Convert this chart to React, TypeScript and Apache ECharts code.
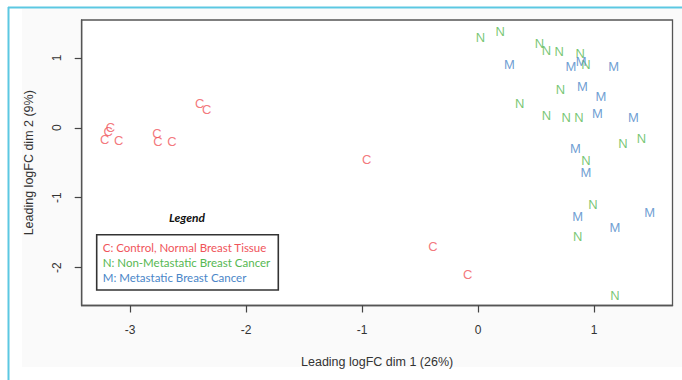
import React, { useEffect, useRef } from "react";
import * as echarts from "echarts";

const xTicks = [-3, -2, -1, 0, 1];
const yTicks = [-2, -1, 0, 1];

const cX = [-2.40, -2.34, -3.17, -3.19, -3.22, -3.10, -2.77, -2.76, -2.64, -0.96, -0.39, -0.09];
const cY = [0.34, 0.26, 0.01, -0.06, -0.17, -0.18, -0.08, -0.20, -0.20, -0.45, -1.70, -2.10];

const nX = [0.02, 0.19, 0.53, 0.59, 0.70, 0.88, 0.93, 0.71, 0.36, 0.59, 0.76, 0.87, 1.25, 1.41, 0.93, 0.99, 0.86, 1.18];
const nY = [1.29, 1.38, 1.20, 1.10, 1.09, 1.06, 0.90, 0.55, 0.35, 0.17, 0.14, 0.14, -0.22, -0.15, -0.47, -1.10, -1.55, -2.40];

const mX = [0.27, 0.80, 0.89, 1.17, 0.90, 1.06, 1.03, 1.34, 0.84, 0.93, 0.86, 1.18, 1.48];
const mY = [0.90, 0.87, 0.94, 0.87, 0.59, 0.44, 0.20, 0.14, -0.29, -0.64, -1.27, -1.42, -1.21];

const groups = [
  { letter: "C", label: "C: Control, Normal Breast Tissue", color: "#f0545a", xs: cX, ys: cY },
  { letter: "N", label: "N: Non-Metastatic Breast Cancer", color: "#56b852", xs: nX, ys: nY },
  { letter: "M", label: "M: Metastatic Breast Cancer", color: "#4a86c8", xs: mX, ys: mY },
];

export default function App() {
  const ref = useRef<HTMLDivElement>(null);
  useEffect(() => {
    if (!ref.current) return;
    const chart = echarts.init(ref.current, null, { renderer: "svg" });
    const axisFont = { fontFamily: "Liberation Sans, Arial, sans-serif", fontSize: 12, color: "#333" };
    const legendFont = "Lato, 'Open Sans', sans-serif";
    const lineStyle = { color: "#555", width: 1.3 };
    chart.setOption({
      animation: false,
      backgroundColor: "#ffffff",
      grid: {
        left: 81.7,
        top: 20,
        right: 9.5,
        bottom: 74.5,
        show: true,
        backgroundColor: "#ffffff",
        borderColor: "#555",
        borderWidth: 1.3,
      },
      xAxis: {
        type: "value",
        min: -3.418,
        max: 1.677,
        splitLine: { show: false },
        axisLine: { show: true, onZero: false, lineStyle },
        axisTick: { show: true, length: 7, inside: false, customValues: xTicks, lineStyle: { color: "#444", width: 1.2 } },
        axisLabel: { customValues: xTicks, margin: 18, ...axisFont },
        name: "Leading logFC dim 1 (26%)",
        nameLocation: "middle",
        nameGap: 50,
        nameTextStyle: { ...axisFont, fontSize: 12.5 },
      },
      yAxis: {
        type: "value",
        min: -2.54,
        max: 1.54,
        splitLine: { show: false },
        axisLine: { show: true, onZero: false, lineStyle },
        axisTick: { show: true, length: 7, inside: false, customValues: yTicks, lineStyle: { color: "#444", width: 1.2 } },
        axisLabel: { customValues: yTicks, margin: 19, rotate: 90, ...axisFont },
        name: "Leading logFC dim 2 (9%)",
        nameLocation: "middle",
        nameGap: 46,
        nameRotate: 90,
        nameTextStyle: { ...axisFont, fontSize: 12.5 },
      },
      series: groups.map((g) => ({
        type: "scatter",
        name: g.letter,
        data: g.xs.map((x, i) => [x, g.ys[i]]),
        symbol: "circle",
        symbolSize: 1,
        itemStyle: { color: "rgba(0,0,0,0)" },
        z: 3,
        label: {
          show: true,
          position: "inside",
          formatter: g.letter,
          color: g.color,
          fontFamily: "Liberation Sans, Arial, sans-serif",
          fontSize: 13,
        },
        labelLayout: { hideOverlap: false },
        emphasis: { disabled: true },
      })),
      graphic: [
        { type: "rect", z: -10, silent: true, shape: { x: 22, y: 9, width: 660, height: 358 }, style: { fill: "#fafafa" } },
        { type: "line", z: 10, silent: true, shape: { x1: 8, y1: 7.5, x2: 682, y2: 7.5 }, style: { stroke: "#5cc8e2", lineWidth: 2 } },
        { type: "line", z: 10, silent: true, shape: { x1: 8.5, y1: 7, x2: 8.5, y2: 380 }, style: { stroke: "#5cc8e2", lineWidth: 2 } },
        {
          type: "text",
          z: 10,
          x: 187,
          y: 217.5,
          style: { text: "Legend", fontFamily: legendFont, fontSize: 12, fontWeight: "bold", fontStyle: "italic", fill: "#111", align: "center", verticalAlign: "middle" },
        },
        {
          type: "rect",
          z: 10,
          shape: { x: 96.7, y: 234.7, width: 181.6, height: 55.3 },
          style: { fill: "#ffffff", stroke: "#333", lineWidth: 1.6 },
        },
        ...groups.map((g, i) => ({
          type: "text",
          z: 11,
          x: 102.7,
          y: 247.3 + i * 15.2,
          style: { text: g.label, fontFamily: legendFont, fontSize: 11.5, fill: g.color, align: "left", verticalAlign: "middle" },
        })),
      ],
    });
    return () => chart.dispose();
  }, []);
  return <div ref={ref} style={{ position: "fixed", left: 0, top: 0, width: 682, height: 380 }} />;
}
